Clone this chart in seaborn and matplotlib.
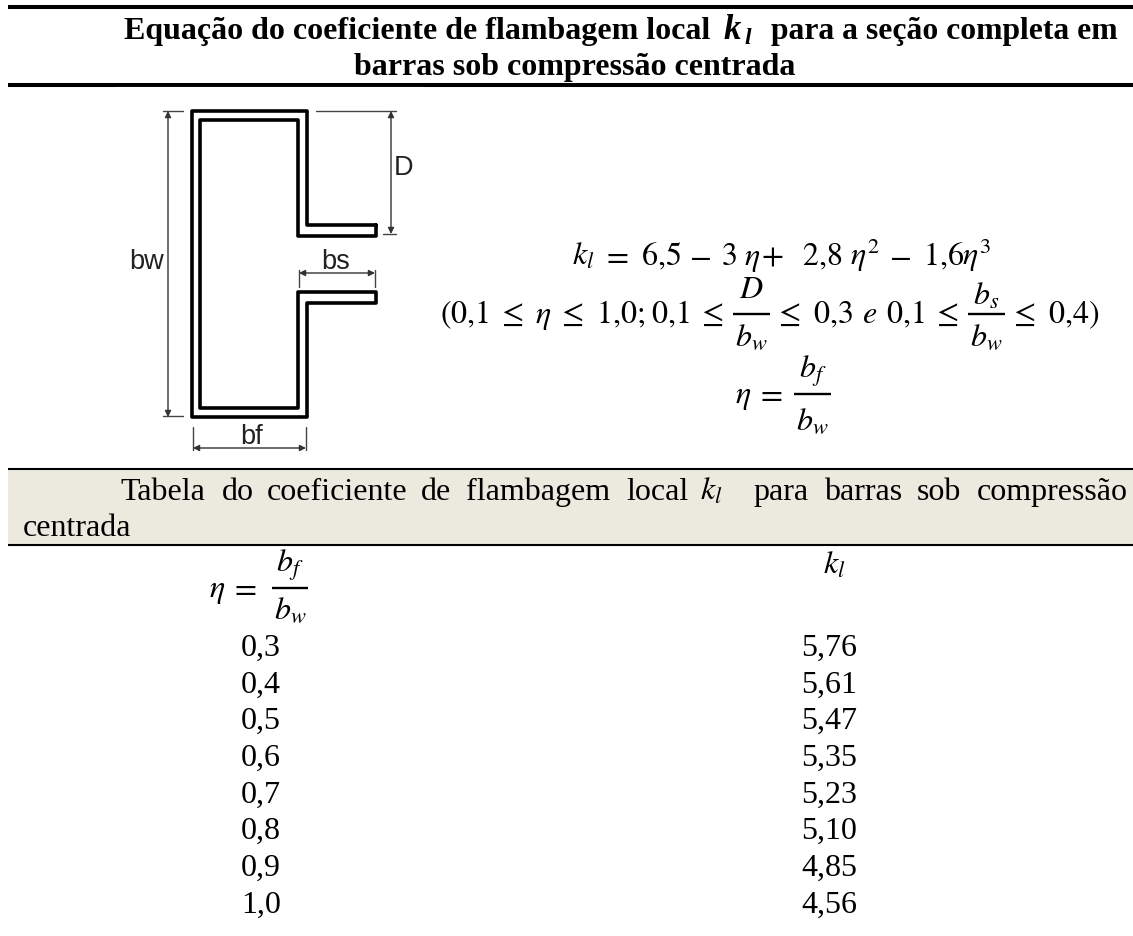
import matplotlib
matplotlib.use('Agg')
import matplotlib.pyplot as plt
import seaborn as sns

# Valores da tabela
eta_values = ['0,3', '0,4', '0,5', '0,6', '0,7', '0,8', '0,9', '1,0']
kl_values = ['5,76', '5,61', '5,47', '5,35', '5,23', '5,10', '4,85', '4,56']
row_y = [656, 693, 729, 766, 803, 839, 876, 913]

# Contorno da seção (pixels da figura)
section_x = [376, 307, 307, 192, 192, 307, 307, 376, 376, 298, 298, 200, 200, 298, 298, 376, 376]
section_y = [225, 225, 111, 111, 417, 417, 303, 303, 292, 292, 408, 408, 120, 120, 236, 236, 225]

# Cotas: (x0, y0, x1, y1)
dim_arrows = [(168, 111, 168, 417), (391, 111, 391, 234), (299, 273, 375, 273), (193, 448, 306, 448)]
dim_ticks = [(163, 111, 183, 111), (163, 416, 183, 416), (316, 111, 396, 111), (383, 234, 396, 234),
             (299, 270, 299, 287), (375, 270, 375, 287), (193, 427, 193, 450), (306, 427, 306, 450)]
dim_labels = [('bw', 147, 262), ('D', 403, 168), ('bs', 336, 262), ('bf', 252, 437)]

# Pedaços das equações: (texto, x)
# mathtext põe um espaço antes de = e <=, por isso o x já vem descontado
eq1_parts = [(r'$k_l$', 572), ('$=$', 602), ('$6{,}5$', 641), ('$-$', 689), ('$3$', 721), (r'$\eta$', 744),
             ('$+$', 761), ('$2{,}8$', 802), (r'$\eta^2$', 850), ('$-$', 889), ('$1{,}6$', 923), (r'$\eta^3$', 962)]
eq2_parts = [('$(0{,}1$', 440), (r'$\leq$', 497), (r'$\eta$', 535), (r'$\leq$', 557), ('$1{,}0;$', 596),
             ('$0{,}1$', 651), (r'$\leq$', 697), (r'$\leq$', 774), ('$0{,}3$', 813), ('$e$', 862),
             ('$0{,}1$', 886), (r'$\leq$', 932), (r'$\leq$', 1009), ('$0{,}4)$', 1048)]

# Palavras da faixa da tabela: (texto, x)
band_words = [('Tabela', 120), ('do', 222), ('coeficiente', 267), ('de', 421), ('flambagem', 466), ('local', 626),
              ('para', 753), ('barras', 824), ('sob', 917), ('compressão', 977)]

sns.set_theme(style='white')
plt.rcParams['font.family'] = ['Liberation Serif', 'DejaVu Serif']
plt.rcParams['mathtext.fontset'] = 'stix'
plt.rcParams['text.color'] = 'black'

fig = plt.figure(figsize=(11.33, 9.36), dpi=100)
ax = fig.add_axes([0, 0, 1, 1])
ax.set_xlim(0, 1133)
ax.set_ylim(936, 0)
ax.axis('off')

size = 23


def put(x, y, s, **kw):
    kw.setdefault('fontsize', size)
    kw.setdefault('ha', 'left')
    ax.text(x, y, s, va='baseline', **kw)


def frac(x0, x1, y, num, y_num, den, y_den):
    ax.plot([x0, x1], [y, y], color='black', lw=1.7, solid_capstyle='butt')
    put((x0 + x1) / 2, y_num, num, ha='center')
    put((x0 + x1) / 2, y_den, den, ha='center')


# Faixa e linhas horizontais
ax.axhspan(469, 545, xmin=8 / 1133, color='#ECE9DF', lw=0)
for y, lw in [(7, 2.9), (85, 2.9), (469, 1.5), (545, 1.5)]:
    ax.plot([8, 1133], [y, y], color='black', lw=lw, solid_capstyle='butt')
ax.plot([116, 423], [86.6, 86.6], color='white', lw=0.8, solid_capstyle='butt')

# Título
put(124, 39, 'Equação do coeficiente de flambagem local', fontweight='bold')
put(724, 39, 'k', fontweight='bold', style='italic', fontsize=25)
put(744, 44, 'l', fontweight='bold', style='italic', fontsize=17)
put(771, 39, 'para a seção completa em', fontweight='bold', fontsize=22.8)
put(574.5, 75, 'barras sob compressão centrada', fontweight='bold', ha='center')

# Seção
sns.lineplot(x=section_x, y=section_y, sort=False, estimator=None, color='black', lw=2.6, ax=ax)
for x0, y0, x1, y1 in dim_ticks:
    ax.plot([x0, x1], [y0, y1], color='#444444', lw=1.0)
for x0, y0, x1, y1 in dim_arrows:
    ax.annotate('', xy=(x1, y1), xytext=(x0, y0),
                arrowprops=dict(arrowstyle='<|-|>', color='#333333', lw=1.0, shrinkA=0, shrinkB=0, mutation_scale=9))
for label, x, y in dim_labels:
    ax.text(x, y, label, family='Liberation Sans', fontsize=19.5, ha='center', va='center', color='#222222')

# Equações
for s, x in eq1_parts:
    put(x, 265, s)
for s, x in eq2_parts:
    put(x, 323, s)
frac(733, 770, 314, '$D$', 298, '$b_w$', 346)
frac(968, 1005, 314, '$b_s$', 305, '$b_w$', 346)
put(735, 403, r'$\eta$')
put(756, 403, '$=$')
frac(794, 831, 394, '$b_f$', 378, '$b_w$', 430)

# Faixa da tabela
for word, x in band_words:
    put(x, 500, word)
put(700, 500, '$k_l$')
put(23, 536, 'centrada')

# Tabela
put(209, 597, r'$\eta$')
put(230, 597, '$=$')
frac(272, 308, 588, '$b_f$', 572, '$b_w$', 619)
put(823, 574, '$k_l$')
for eta, kl, y in zip(eta_values, kl_values, row_y):
    put(261, y, eta, ha='center')
    put(829.5, y, kl, ha='center')

fig.savefig('out.png', dpi=100)
